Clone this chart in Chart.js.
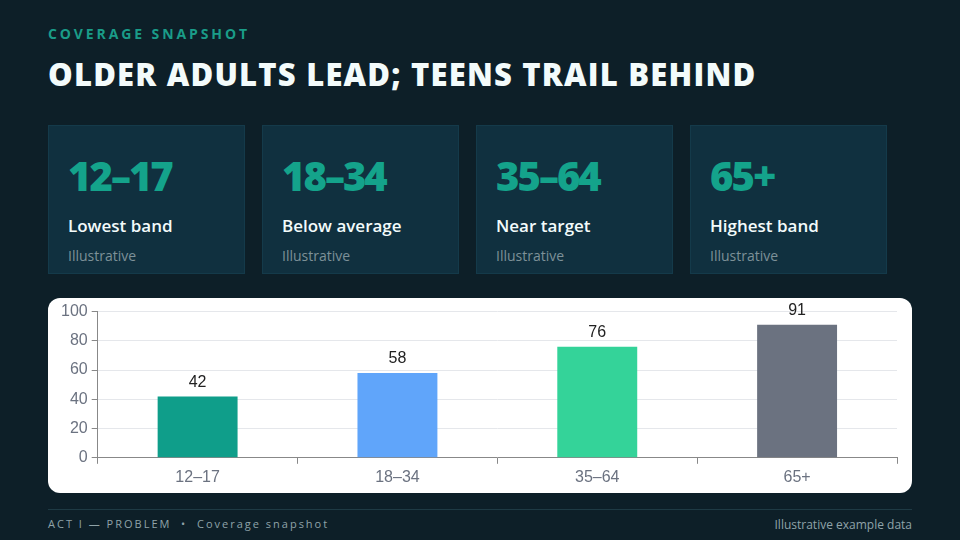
<!DOCTYPE html>
<html>
<head>
<meta charset="utf-8">
<script src="https://cdn.jsdelivr.net/npm/chart.js@4"></script>
<style>
  html, body { margin: 0; padding: 0; }
  body {
    width: 960px; height: 540px; overflow: hidden;
    background: #0d1f28; font-family: "Open Sans", sans-serif; position: relative;
  }
  .kicker {
    position: absolute; left: 48px; top: 24px;
    color: #1a9c88; font-size: 14px; font-weight: 700; letter-spacing: 2.9px;
  }
  .title {
    position: absolute; left: 48px; top: 53px;
    color: #f3fbfb; font-size: 31px; font-weight: 800; letter-spacing: 1.2px;
  }
  .card {
    position: absolute; top: 125px; width: 197px; height: 149px;
    background: #10303f; border: 1px solid #143a4a; box-sizing: border-box;
  }
  .card .big {
    position: absolute; left: 19px; top: 22px;
    color: #14a38b; font-size: 40px; font-weight: 800; letter-spacing: -2px;
  }
  .card .lbl {
    position: absolute; left: 19px; top: 88px;
    color: #f3fbfb; font-size: 17px; font-weight: 600;
  }
  .card .sub {
    position: absolute; left: 19px; top: 120px;
    color: #7d9198; font-size: 14px;
  }
  .panel {
    position: absolute; left: 48px; top: 298px; width: 864px; height: 195px;
    background: #ffffff; border-radius: 12px; overflow: hidden;
  }
  .rule {
    position: absolute; left: 48px; top: 509px; width: 864px; height: 1px;
    background: #1e3a44;
  }
  .foot {
    position: absolute; left: 48px; top: 516px;
    color: #8fa3a8; font-size: 11px; letter-spacing: 2px;
  }
  .foot-r {
    position: absolute; right: 48px; top: 516px;
    color: #8fa3a8; font-size: 12px;
  }
</style>
</head>
<body>
<div class="kicker">COVERAGE SNAPSHOT</div>
<div class="title">OLDER ADULTS LEAD; TEENS TRAIL BEHIND</div>
<div id="cards"></div>
<div class="panel"><canvas id="chart" width="864" height="195"></canvas></div>
<div class="rule"></div>
<div class="foot">ACT I — PROBLEM &nbsp;•&nbsp; Coverage snapshot</div>
<div class="foot-r">Illustrative example data</div>
<script>
// データ
var categories = ["12–17", "18–34", "35–64", "65+"];
var coverage = [42, 58, 76, 91];
var barColors = ["#0f9e8a", "#60a5fa", "#34d399", "#6b7280"];
var cardTitles = ["Lowest band", "Below average", "Near target", "Highest band"];
var cardNotes = ["Illustrative", "Illustrative", "Illustrative", "Illustrative"];
var cardLeft = [48, 262, 476, 690];

var tickFont = { family: "'Liberation Sans', Arial, sans-serif", size: 16 };

// カード
var holder = document.getElementById("cards");
categories.forEach(function(c, i){
  var d = document.createElement("div");
  d.className = "card";
  d.style.left = cardLeft[i] + "px";
  d.innerHTML = '<div class="big">' + c + '</div><div class="lbl">' + cardTitles[i] +
    '</div><div class="sub">' + cardNotes[i] + '</div>';
  holder.appendChild(d);
});

// 棒の上に値を書く
var valueLabels = {
  id: "valueLabels",
  afterDatasetsDraw: function(chart){
    var ctx = chart.ctx;
    var meta = chart.getDatasetMeta(0);
    ctx.save();
    ctx.fillStyle = "#222222";
    ctx.font = "16px 'Liberation Sans', Arial, sans-serif";
    ctx.textAlign = "center";
    ctx.textBaseline = "bottom";
    meta.data.forEach(function(bar, i){
      ctx.fillText(String(coverage[i]), bar.x, bar.y - 6);
    });
    ctx.restore();
  }
};

new Chart(document.getElementById("chart"), {
  type: "bar",
  data: {
    labels: categories,
    datasets: [{
      data: coverage,
      backgroundColor: barColors,
      barPercentage: 0.4,
      categoryPercentage: 1.0
    }]
  },
  options: {
    responsive: false,
    animation: false,
    layout: { padding: { left: 9, right: 15, top: 12, bottom: 2 } },
    plugins: { legend: { display: false }, tooltip: { enabled: false } },
    scales: {
      x: {
        grid: { display: true, drawOnChartArea: false, drawTicks: true, tickLength: 6, color: "#888888", offset: true },
        border: { color: "#888888" },
        ticks: { color: "#6b7280", font: tickFont, padding: 4 }
      },
      y: {
        min: 0, max: 100,
        ticks: { stepSize: 20, color: "#6b7280", font: tickFont, padding: 4 },
        grid: { color: "#e5e7eb", tickLength: 6, tickColor: "#888888" },
        border: { color: "#888888" }
      }
    }
  },
  plugins: [valueLabels]
});
</script>
</body>
</html>
